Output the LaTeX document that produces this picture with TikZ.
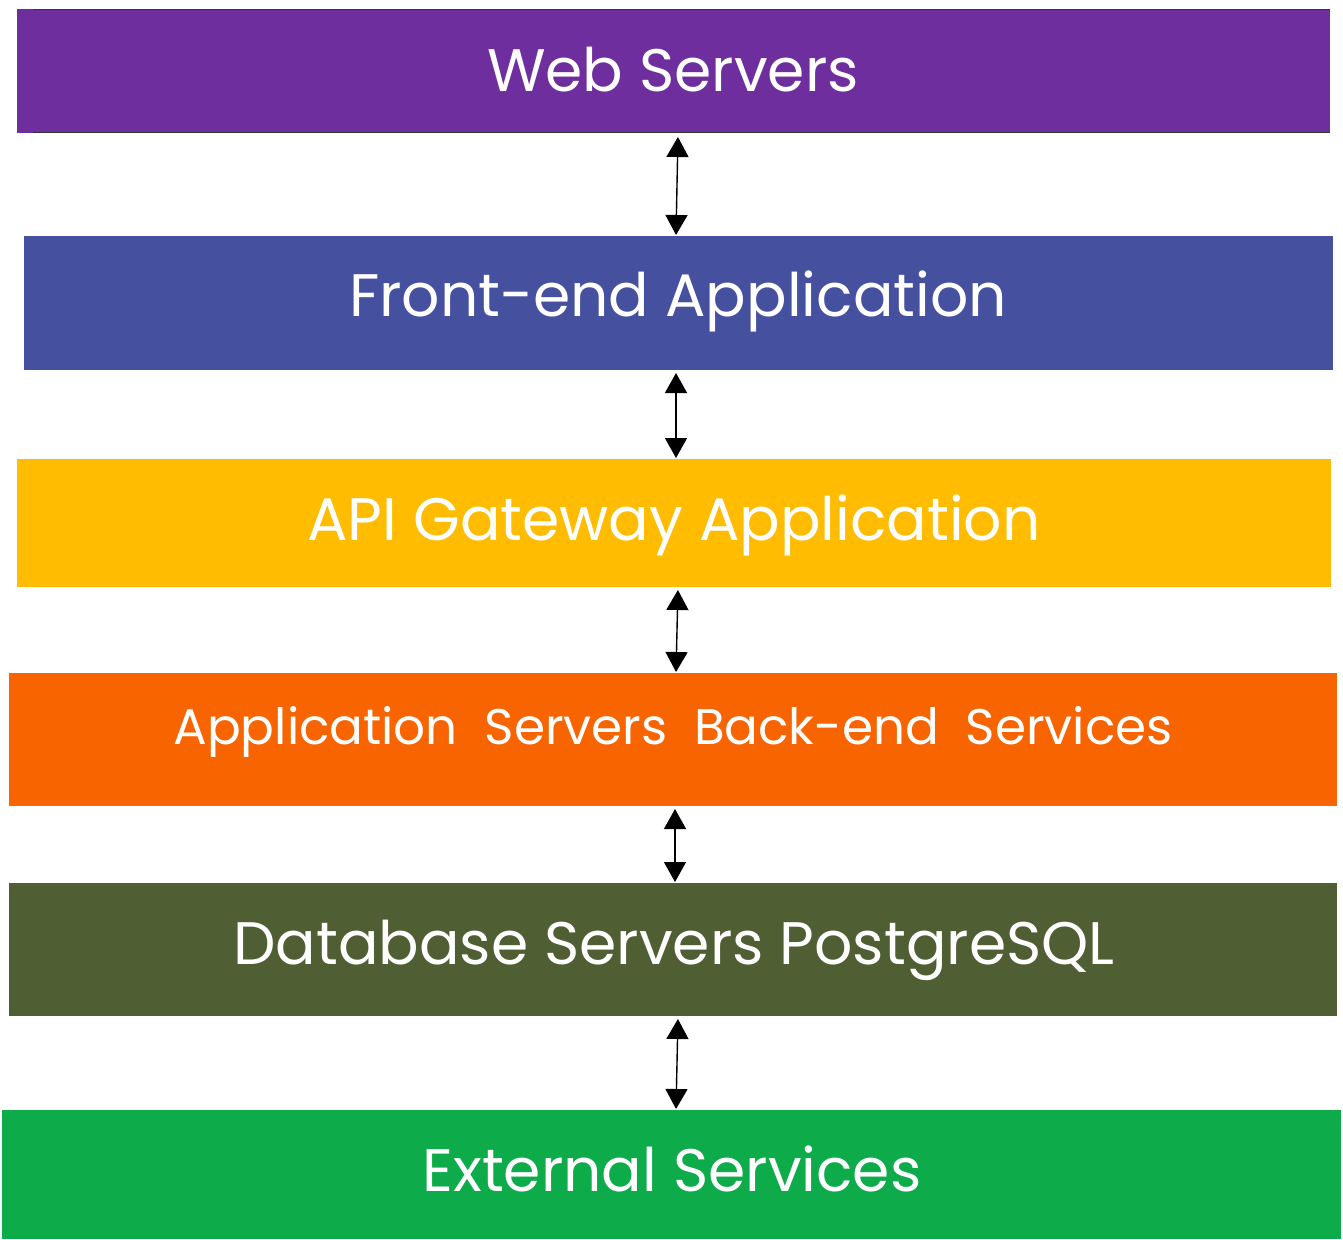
\documentclass[tikz,border=0pt]{standalone}
\usepackage{fontspec}
\setmainfont{Poppins}
\usetikzlibrary{arrows.meta}
\definecolor{cpurple}{HTML}{6E2E9E}
\definecolor{cblue}{HTML}{45509F}
\definecolor{cyellow}{HTML}{FFBC00}
\definecolor{corange}{HTML}{F86400}
\definecolor{colive}{HTML}{505E33}
\definecolor{cgreen}{HTML}{0DAB4A}
\tikzset{
  layer/.style={inner sep=0pt, outer sep=0pt},
  lbl/.style={text=white, anchor=base, inner sep=0pt, font=\fontsize{60}{60}\selectfont},
  smalllbl/.style={lbl, font=\fontsize{50}{50}\selectfont},
  link/.style={line width=1.4pt, {Triangle[width=22pt,length=20pt]}-{Triangle[width=22pt,length=20pt]}, shorten <=3pt, shorten >=1pt}
}
\begin{document}
\begin{tikzpicture}[x=1pt,y=-1pt]
\useasboundingbox (0,0) rectangle (1343,1239);
% boxes
\fill[cpurple] (17,9) rectangle (1330,133);
\draw[line width=1.2pt, black!80] (33,9.5) -- (1330,9.5) (33,132.5) -- (1330,132.5);
\fill[cblue] (24,236) rectangle (1333,370);
\fill[cyellow] (17,459) rectangle (1331,587);
\fill[corange] (9,673) rectangle (1337,806);
\fill[colive] (9,883) rectangle (1337,1016);
\fill[cgreen] (2,1110) rectangle (1341,1239);
% labels
\node[lbl] (web) at (673,92) {Web Servers};
\node[lbl] (front) at (678,316) {Front-end Application};
\node[lbl] (api) at (674,540) {API Gateway Application};
\node[smalllbl] (app) at (673,744) {Application\ \ Servers\ \ Back-end\ \ Services};
\node[lbl] (db) at (674,964) {Database Servers PostgreSQL};
\node[lbl] (ext) at (672,1191) {External Services};
% anchor coordinates
\coordinate (w1) at (678,134);
\coordinate (f0) at (676,236);
\coordinate (f1) at (676,370);
\coordinate (a0) at (676,459);
\coordinate (a1) at (678,587);
\coordinate (o0) at (676,673);
\coordinate (o1) at (675,806);
\coordinate (d0) at (675,883);
\coordinate (d1) at (678,1016);
\coordinate (e0) at (676,1110);
\draw[link] (w1) -- (f0);
\draw[link] (f1) -- (a0);
\draw[link] (a1) -- (o0);
\draw[link] (o1) -- (d0);
\draw[link] (d1) -- (e0);
\end{tikzpicture}
\end{document}
